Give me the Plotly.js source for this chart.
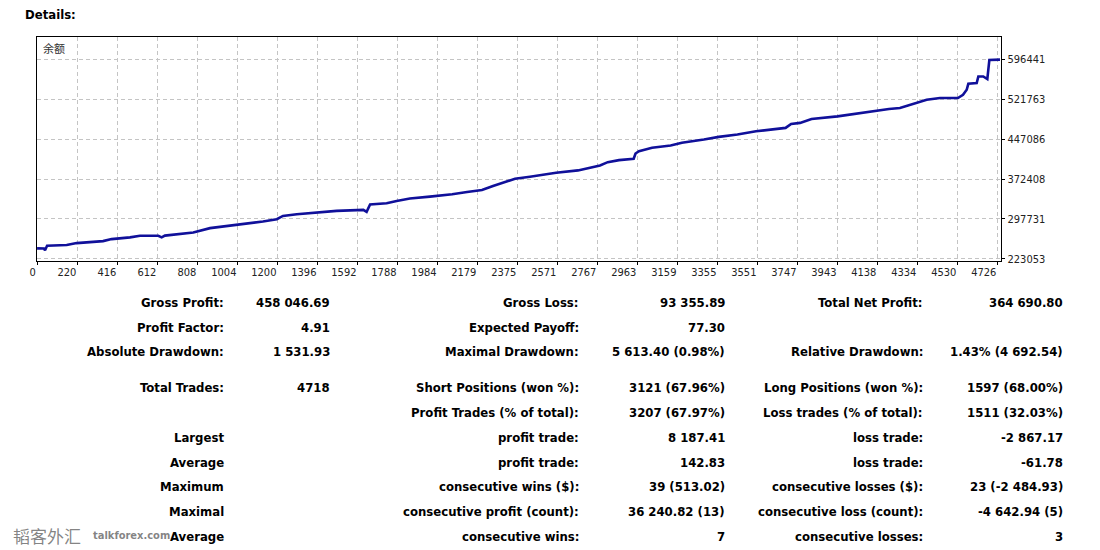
<!DOCTYPE html>
<html>
<head>
<meta charset="utf-8">
<script src="https://cdn.plot.ly/plotly-3.0.1.min.js"></script>
<style>
  html, body { margin: 0; padding: 0; background: #ffffff; }
  #chart { width: 1100px; height: 550px; }
</style>
</head>
<body>
<div id="chart"></div>
<script>
// ---------------- DATA ----------------
// Balance curve (trade number, balance)
const tradeNo = [22, 56, 61, 71, 167, 216, 345, 387, 477, 526, 616, 632, 648, 673, 787, 869, 1000, 1065, 1128, 1196,
  1226, 1294, 1392, 1489, 1620, 1636, 1653, 1734, 1783, 1848, 1946, 2055, 2128, 2201, 2255, 2309, 2363, 2436, 2490, 2564,
  2671, 2708, 2779, 2817, 2872, 2944, 2953, 2970, 3034, 3125, 3180, 3288, 3361, 3452, 3543, 3688, 3715, 3759, 3815, 3942,
  4033, 4123, 4194, 4248, 4330, 4379, 4444, 4532, 4557, 4575, 4583, 4624, 4632, 4656, 4676, 4686, 4738];
const balance = [242469, 242096, 238735, 247323, 248630, 252364, 256098, 259832, 263005, 265993, 265993, 263005, 266366, 267299, 272340, 280368, 286529, 289143, 292876, 297171,
  303331, 306505, 309679, 312666, 314533, 310799, 324614, 327041, 331336, 335816, 339550, 343844, 348138, 351872, 359340, 365687, 373155, 376889, 380623, 384357,
  388650, 391824, 397985, 404146, 407880, 410494, 420389, 424682, 431030, 435324, 440365, 446526, 451566, 455860, 462021, 468369, 475837, 477704, 485171, 490025,
  495066, 501227, 503841, 505708, 516163, 521203, 524377, 524377, 530538, 539873, 551074, 552381, 564703, 564703, 559849, 595881, 596441];

const xTickLabels = [0, 220, 416, 612, 808, 1004, 1200, 1396, 1592, 1788, 1984, 2179, 2375, 2571, 2767, 2963, 3159, 3355, 3551, 3747, 3943, 4138, 4334, 4530, 4726];
const yTickLabels = [223053, 297731, 372408, 447086, 521763, 596441];

const curveName = '余额';
const reportTitle = 'Details:';

// Report table, row by row
const col1Labels = ['Gross Profit:', 'Profit Factor:', 'Absolute Drawdown:', 'Total Trades:', '', 'Largest', 'Average', 'Maximum', 'Maximal', 'Average'];
const col1Values = ['458 046.69', '4.91', '1 531.93', '4718', '', '', '', '', '', ''];
const col2Labels = ['Gross Loss:', 'Expected Payoff:', 'Maximal Drawdown:', 'Short Positions (won %):', 'Profit Trades (% of total):', 'profit trade:', 'profit trade:', 'consecutive wins ($):', 'consecutive profit (count):', 'consecutive wins:'];
const col2Values = ['93 355.89', '77.30', '5 613.40 (0.98%)', '3121 (67.96%)', '3207 (67.97%)', '8 187.41', '142.83', '39 (513.02)', '36 240.82 (13)', '7'];
const col3Labels = ['Total Net Profit:', '', 'Relative Drawdown:', 'Long Positions (won %):', 'Loss trades (% of total):', 'loss trade:', 'loss trade:', 'consecutive losses ($):', 'consecutive loss (count):', 'consecutive losses:'];
const col3Values = ['364 690.80', '', '1.43% (4 692.54)', '1597 (68.00%)', '1511 (32.03%)', '-2 867.17', '-61.78', '23 (-2 484.93)', '-4 642.94 (5)', '3'];

const watermarkCN = '韬客外汇';
const watermarkEN = 'talkforex.com';

// ---------------- LAYOUT ----------------
const W = 1100, H = 550;
const PL = 37, PR = 1001, PT = 37, PB = 261;
const X_MIN = 21.6, X_MAX = 4743;
const Y_MIN = 218753, Y_MAX = 638820;

const FONT = '"DejaVu Sans Condensed", "DejaVu Sans", Verdana, sans-serif';

function px2x(px) { return (px - PL) / (PR - PL); }
function px2y(py) { return (PB - py) / (PB - PT); }

const rowY = [302, 327.5, 351.5, 387.5, 412, 437.5, 462, 486.5, 511.5, 536.5];
const colRight = [226, 332, 581, 727, 925, 1065];
const cols = [col1Labels, col1Values, col2Labels, col2Values, col3Labels, col3Values];

const annotations = [];
cols.forEach((arr, ci) => {
  arr.forEach((txt, ri) => {
    if (!txt) return;
    annotations.push({
      xref: 'paper', yref: 'paper',
      x: px2x(colRight[ci]), y: px2y(rowY[ri]),
      xanchor: 'right', yanchor: 'middle',
      text: txt, showarrow: false,
      font: { family: FONT, size: 13, color: '#000000', weight: 'bold' }
    });
  });
});

annotations.push({
  xref: 'paper', yref: 'paper', x: px2x(23), y: px2y(15),
  xanchor: 'left', yanchor: 'middle', text: reportTitle, showarrow: false,
  font: { family: FONT, size: 13, color: '#000000', weight: 'bold' }
});
annotations.push({
  xref: 'paper', yref: 'paper', x: px2x(41), y: px2y(48),
  xanchor: 'left', yanchor: 'middle', text: curveName, showarrow: false,
  font: { family: '"Noto Sans CJK SC", sans-serif', size: 11, color: '#333333' }
});
// watermark
annotations.push({
  xref: 'paper', yref: 'paper', x: px2x(11), y: px2y(535),
  xanchor: 'left', yanchor: 'middle', text: watermarkCN, showarrow: false,
  font: { family: '"Noto Sans CJK SC", serif', size: 17, color: 'rgba(110,110,110,0.85)' }
});
annotations.push({
  xref: 'paper', yref: 'paper', x: px2x(91), y: px2y(535),
  xanchor: 'left', yanchor: 'middle', text: watermarkEN, showarrow: false,
  font: { family: FONT, size: 11, color: 'rgba(110,110,110,0.85)', weight: 'bold' }
});

const trace = {
  x: tradeNo, y: balance, type: 'scatter', mode: 'lines',
  line: { color: '#10109a', width: 2.6, shape: 'linear' },
  hoverinfo: 'skip', showlegend: false
};

const layout = {
  width: W, height: H,
  margin: { l: PL, r: W - PR, t: PT, b: H - PB, pad: 0 },
  paper_bgcolor: '#ffffff', plot_bgcolor: '#ffffff',
  showlegend: false,
  xaxis: {
    range: [X_MIN, X_MAX],
    tickmode: 'array',
    tickvals: xTickLabels.map((v, i) => i === 0 ? X_MIN : v),
    ticktext: xTickLabels.map(String),
    ticks: 'outside', ticklen: 3, tickcolor: '#000', tickwidth: 1,
    ticklabelposition: 'outside left',
    tickfont: { family: FONT, size: 11, color: '#222' },
    showgrid: true, gridcolor: '#c4c4c4', gridwidth: 1, griddash: '4px,3px',
    showline: true, linecolor: '#000', linewidth: 1.3, mirror: true,
    zeroline: false, fixedrange: true
  },
  yaxis: {
    range: [Y_MIN, Y_MAX],
    side: 'right',
    tickmode: 'array',
    tickvals: yTickLabels,
    ticktext: yTickLabels.map(String),
    ticks: 'outside', ticklen: 3, tickcolor: '#000', tickwidth: 1,
    tickfont: { family: FONT, size: 11, color: '#222' },
    showgrid: true, gridcolor: '#c4c4c4', gridwidth: 1, griddash: '4px,3px',
    showline: true, linecolor: '#000', linewidth: 1.3, mirror: true,
    zeroline: false, fixedrange: true
  },
  annotations: annotations
};

Plotly.newPlot('chart', [trace], layout, { staticPlot: true, displayModeBar: false });
</script>
</body>
</html>
